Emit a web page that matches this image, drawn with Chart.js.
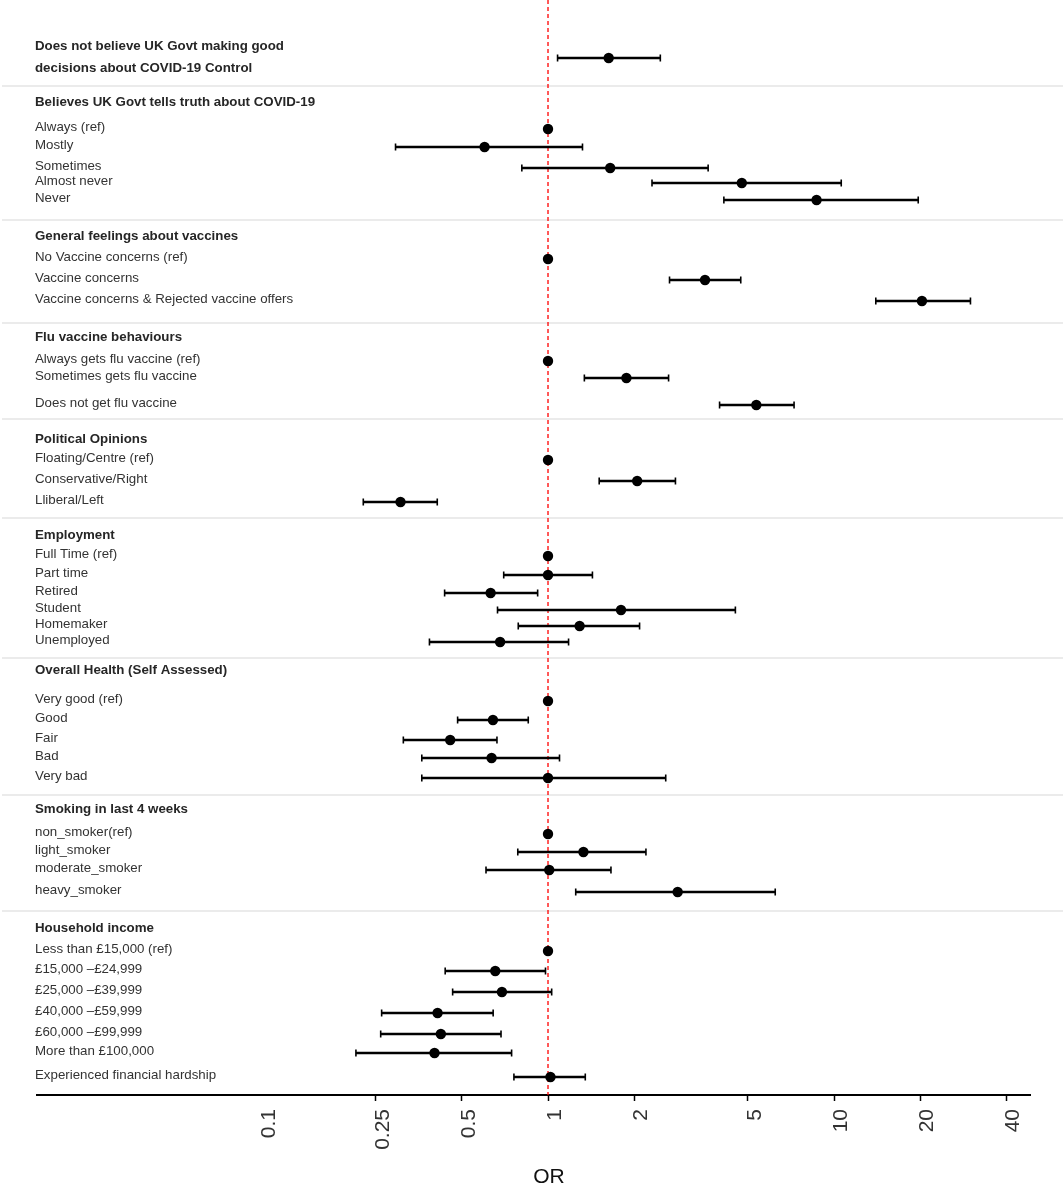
<!DOCTYPE html>
<html>
<head>
<meta charset="utf-8">
<script src="https://cdn.jsdelivr.net/npm/chart.js@4.4.0/dist/chart.umd.min.js"></script>
<style>
  body { margin: 0; background: #fff; }
  canvas { display: block; }
</style>
</head>
<body>
<canvas id="forest-chart" width="1063" height="1188"></canvas>
<script>
// Group headings (first one is a two-line statement with its own estimate)
const headerLabels = [
  ["Does not believe UK Govt making good", "decisions about COVID-19 Control"],
  "Believes UK Govt tells truth about COVID-19",
  "General feelings about vaccines",
  "Flu vaccine behaviours",
  "Political Opinions",
  "Employment",
  "Overall Health (Self Assessed)",
  "Smoking in last 4 weeks",
  "Household income"
];
const headerRows = [1.1, 3.35, 10.05, 15.1, 20.2, 25, 31.75, 38.7, 44.65];
const separatorRows = [2.55, 9.25, 14.4, 19.2, 24.15, 31.15, 38, 43.8];

// One entry per estimate
const itemLabels = [
  "",
  "Always (ref)", "Mostly", "Sometimes", "Almost never", "Never",
  "No Vaccine concerns (ref)", "Vaccine concerns", "Vaccine concerns & Rejected vaccine offers",
  "Always gets flu vaccine (ref)", "Sometimes gets flu vaccine", "Does not get flu vaccine",
  "Floating/Centre (ref)", "Conservative/Right", "Lliberal/Left",
  "Full Time (ref)", "Part time", "Retired", "Student", "Homemaker", "Unemployed",
  "Very good (ref)", "Good", "Fair", "Bad", "Very bad",
  "non_smoker(ref)", "light_smoker", "moderate_smoker", "heavy_smoker",
  "Less than £15,000 (ref)", "£15,000 –£24,999", "£25,000 –£39,999", "£40,000 –£59,999",
  "£60,000 –£99,999", "More than £100,000", "Experienced financial hardship"
];
const itemRows = [
  1.15,
  4.7, 5.6, 6.65, 7.4, 8.25,
  11.2, 12.25, 13.3,
  16.3, 17.15, 18.5,
  21.25, 22.3, 23.35,
  26.05, 27, 27.9, 28.75, 29.55, 30.35,
  33.3, 34.25, 35.25, 36.15, 37.15,
  39.95, 40.85, 41.75, 42.85,
  45.8, 46.8, 47.85, 48.9, 49.95, 50.9, 52.1
];
const oddsRatio = [
  1.63,
  1, 0.60, 1.65, 4.76, 8.69,
  1, 3.54, 20.3,
  1, 1.88, 5.35,
  1, 2.05, 0.305,
  1, 1.0, 0.63, 1.80, 1.29, 0.68,
  1, 0.642, 0.455, 0.635, 1.0,
  1, 1.33, 1.01, 2.84,
  1, 0.654, 0.69, 0.411, 0.422, 0.401, 1.02
];
const ciLow = [
  1.08,
  null, 0.293, 0.81, 2.31, 4.12,
  null, 2.66, 14.0,
  null, 1.34, 3.98,
  null, 1.51, 0.226,
  null, 0.70, 0.435, 0.666, 0.787, 0.385,
  null, 0.483, 0.312, 0.362, 0.362,
  null, 0.784, 0.607, 1.25,
  null, 0.437, 0.464, 0.262, 0.26, 0.213, 0.76
];
const ciHigh = [
  2.47,
  null, 1.32, 3.63, 10.6, 19.7,
  null, 4.72, 30.0,
  null, 2.64, 7.25,
  null, 2.79, 0.41,
  null, 1.43, 0.92, 4.52, 2.09, 1.18,
  null, 0.853, 0.663, 1.097, 2.58,
  null, 2.20, 1.66, 6.23,
  null, 0.98, 1.03, 0.643, 0.685, 0.746, 1.35
];
const tickValues = [0.1, 0.25, 0.5, 1, 2, 5, 10, 20, 40];
const refLine = 1;
const axisTitle = "OR";

const fontFamily = "'Liberation Sans', Arial, Helvetica, sans-serif";

const forestPlugin = {
  id: "forestPlugin",
  beforeDatasetsDraw: (chart) => {
    const ctx = chart.ctx;
    const x = chart.scales.x;
    const y = chart.scales.y;
    ctx.save();

    // group separators
    ctx.strokeStyle = "#ebebeb";
    ctx.lineWidth = 2;
    separatorRows.forEach((r) => {
      const py = Math.round(y.getPixelForValue(r));
      ctx.beginPath();
      ctx.moveTo(2, py);
      ctx.lineTo(chart.width, py);
      ctx.stroke();
    });

    // left-hand text
    ctx.textAlign = "left";
    ctx.textBaseline = "middle";
    ctx.fillStyle = "#262626";
    ctx.font = "bold 13.3px " + fontFamily;
    headerLabels.forEach((lab, i) => {
      const py = y.getPixelForValue(headerRows[i]);
      if (Array.isArray(lab)) {
        ctx.fillText(lab[0], 35, py - 11);
        ctx.fillText(lab[1], 35, py + 11);
      } else {
        ctx.fillText(lab, 35, py);
      }
    });
    ctx.fillStyle = "#333333";
    ctx.font = "13.3px " + fontFamily;
    itemLabels.forEach((lab, i) => {
      if (!lab) return;
      ctx.fillText(lab, 35, y.getPixelForValue(itemRows[i]) - 2);
    });

    // reference line at OR = 1
    const rx = x.getPixelForValue(refLine);
    ctx.strokeStyle = "#ff0000";
    ctx.lineWidth = 1.3;
    ctx.setLineDash([4, 3]);
    ctx.beginPath();
    ctx.moveTo(rx, 0);
    ctx.lineTo(rx, chart.chartArea.bottom);
    ctx.stroke();
    ctx.setLineDash([]);

    // confidence intervals
    ctx.strokeStyle = "#000";
    ciLow.forEach((lo, i) => {
      if (lo == null) return;
      const x0 = x.getPixelForValue(lo);
      const x1 = x.getPixelForValue(ciHigh[i]);
      const py = y.getPixelForValue(itemRows[i]);
      ctx.lineWidth = 2.6;
      ctx.beginPath();
      ctx.moveTo(x0, py);
      ctx.lineTo(x1, py);
      ctx.stroke();
      ctx.lineWidth = 1.6;
      ctx.beginPath();
      ctx.moveTo(x0, py - 3.5);
      ctx.lineTo(x0, py + 3.5);
      ctx.moveTo(x1, py - 3.5);
      ctx.lineTo(x1, py + 3.5);
      ctx.stroke();
    });
    ctx.restore();
  },
  afterDraw: (chart) => {
    // axis title sits under the reference line, not the middle of the axis
    const ctx = chart.ctx;
    ctx.save();
    ctx.fillStyle = "#111";
    ctx.font = "21px " + fontFamily;
    ctx.textAlign = "center";
    ctx.textBaseline = "middle";
    ctx.fillText(axisTitle, chart.scales.x.getPixelForValue(refLine) + 1, chart.height - 11);
    ctx.restore();
  }
};

new Chart(document.getElementById("forest-chart"), {
  type: "scatter",
  data: {
    datasets: [{
      data: oddsRatio.map((v, i) => ({ x: v, y: itemRows[i] })),
      backgroundColor: "#000",
      borderWidth: 0,
      pointRadius: 5.2,
      pointHoverRadius: 5.2
    }]
  },
  options: {
    responsive: false,
    animation: false,
    layout: {
      padding: { left: 37, right: 33, top: 35, bottom: 0 }
    },
    scales: {
      x: {
        type: "logarithmic",
        min: 0.01634,
        max: 48.45,
        afterBuildTicks: (scale) => {
          scale.ticks = tickValues.map((v) => ({ value: v }));
        },
        afterFit: (scale) => {
          scale.height = 93;
        },
        grid: {
          drawOnChartArea: false,
          drawTicks: true,
          tickLength: 6,
          tickWidth: 1.5,
          tickColor: (c) => (c.tick && c.tick.value === 0.1 ? "rgba(0,0,0,0)" : "#000")
        },
        border: { display: true, color: "#000", width: 2 },
        ticks: {
          autoSkip: false,
          minRotation: 90,
          maxRotation: 90,
          padding: 8,
          labelOffset: 7,
          color: "#333",
          font: { family: fontFamily, size: 21 },
          callback: (value) => String(value)
        },
        title: { display: false }
      },
      y: {
        display: false,
        reverse: true,
        min: 0,
        max: 53
      }
    },
    plugins: {
      legend: { display: false },
      tooltip: { enabled: false }
    }
  },
  plugins: [forestPlugin]
});
</script>
</body>
</html>
